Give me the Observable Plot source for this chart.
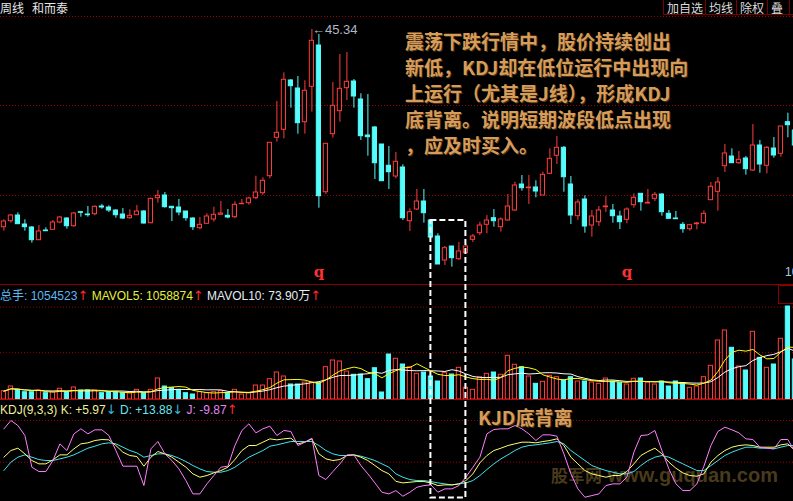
<!DOCTYPE html>
<html lang="zh">
<head>
<meta charset="utf-8">
<script src="https://cdn.jsdelivr.net/npm/d3@7"></script>
<script src="https://cdn.jsdelivr.net/npm/@observablehq/plot@0.6"></script>
<style>
html,body{margin:0;padding:0;background:#000;}
#wrap{position:relative;width:793px;height:501px;overflow:hidden;background:#000;font-family:"Liberation Sans","Noto Sans CJK SC",sans-serif;}
#wrap > *{position:absolute;}
.arw{font-family:"DejaVu Sans",sans-serif;font-size:13px;}
</style>
</head>
<body>
<div id="wrap"></div>
<script>
// ---------- data (weekly candles of 和而泰) ----------
const opens = [25.57,26.17,26.74,25.84,25.54,24.27,25.24,25.31,26.04,26.44,
 25.67,27.07,26.84,26.87,27.64,27.54,27.24,26.84,26.47,26.77,
 27.14,25.97,28.47,28.74,27.61,27.54,27.14,26.44,25.47,25.91,
 26.34,26.81,26.71,26.57,27.87,27.97,28.47,28.97,30.67,34.51,
 35.31,40.24,39.44,36.07,39.61,43.74,29.07,34.87,37.17,39.47,
 40.14,38.34,34.74,35.54,33.84,31.71,30.64,31.54,26.17,27.34,
 28.14,26.24,24.64,22.24,23.64,22.37,22.97,24.31,24.97,25.81,
 26.47,25.57,26.24,27.24,29.84,29.47,29.54,28.74,30.91,32.71,
 33.51,29.84,26.67,28.34,25.74,26.07,27.57,27.24,26.64,26.31,
 27.77,28.91,27.94,28.41,28.84,26.91,26.44,25.81,25.37,25.87,
 25.97,28.27,29.11,31.67,32.64,31.97,32.44,31.24,33.74,31.71,
 33.44,32.91,36.07,35.24];
const highs = [26.31,26.84,27.01,26.31,25.64,25.74,25.51,26.24,26.64,26.51,
 27.04,27.14,27.64,27.71,27.84,27.71,27.31,27.44,27.31,27.74,
 27.24,28.47,29.24,29.04,27.61,28.34,27.14,26.51,26.54,26.91,
 27.57,28.14,27.34,28.11,28.34,28.57,30.67,30.51,34.01,38.14,
 41.01,40.34,40.64,40.21,45.34,44.84,33.91,40.04,42.84,43.04,
 40.34,38.91,38.84,35.64,33.84,33.64,33.04,31.81,27.41,29.34,
 29.34,26.24,24.91,23.64,23.64,24.04,23.84,24.84,26.07,26.74,
 27.34,26.51,28.84,30.07,30.74,30.74,30.21,31.07,33.41,34.64,
 33.64,30.64,28.31,28.71,27.24,27.64,28.64,27.84,27.17,27.51,
 28.91,28.91,29.34,29.04,28.91,27.24,27.14,26.04,25.77,26.04,
 27.21,30.04,30.54,33.84,33.41,33.14,32.64,35.84,34.24,33.64,
 34.54,35.64,36.97,35.50];
const lows = [25.17,25.97,25.87,25.17,23.97,24.27,25.17,25.31,25.91,25.37,
 25.57,26.57,26.57,26.71,27.37,27.04,26.47,26.34,26.37,26.77,
 25.87,25.91,27.97,27.47,26.14,26.71,26.17,25.24,25.31,25.91,
 26.07,26.81,26.41,26.41,27.81,27.77,28.31,28.77,30.41,34.07,
 34.41,37.47,34.87,34.87,37.07,27.47,28.84,34.47,36.07,38.24,
 37.47,34.24,32.67,30.34,30.17,29.34,30.41,26.24,25.14,27.24,
 25.97,24.44,21.84,21.74,21.57,22.24,22.91,24.04,24.74,24.91,
 25.57,25.07,26.17,27.14,29.17,27.84,28.51,28.74,30.84,31.84,
 29.07,25.84,26.24,24.97,24.57,25.64,27.04,25.97,25.34,25.91,
 27.47,27.17,27.91,28.14,26.67,26.41,26.37,24.97,25.17,25.31,
 25.84,28.27,27.17,31.04,31.97,31.84,30.77,31.14,30.97,30.91,
 32.47,32.57,34.51,33.50];
const closes = [26.14,26.74,25.87,25.57,24.27,25.14,25.17,26.04,26.54,25.67,
 26.94,27.01,26.77,27.61,27.54,27.24,26.77,26.44,26.71,27.14,
 25.94,28.41,28.71,27.57,27.47,27.04,26.47,25.57,25.81,26.64,
 26.81,26.94,26.54,27.81,27.91,28.44,29.04,30.21,34.01,35.01,
 40.31,39.67,35.97,39.21,44.21,28.67,33.91,37.71,39.41,40.11,
 38.64,34.67,34.57,31.97,30.17,31.07,32.11,26.47,27.07,28.14,
 26.97,24.54,21.84,23.47,22.47,23.14,23.64,24.64,25.74,26.24,
 26.17,26.34,27.64,29.74,29.47,29.54,29.14,30.81,32.41,33.51,
 30.57,26.74,28.04,25.64,26.64,27.24,27.64,26.67,26.07,27.34,
 28.51,28.07,28.01,28.81,27.07,26.41,26.37,25.37,25.77,25.94,
 26.91,29.61,30.04,32.94,31.97,32.31,31.37,33.74,31.84,33.51,
 32.74,35.64,35.77,33.74];
// volume, 万手
const volumes = [20.8,32.5,24.2,18.2,18.2,22.5,15.8,18.2,26.8,18.2,
 30,22.5,22.5,22.5,15.8,18.2,18.2,15.8,15.8,24.2,
 15.8,24.2,52.5,32.5,29.2,24.2,15.8,12.5,18.2,15.8,
 18.2,20.8,15.8,24.2,12.5,15.8,35,35,50.8,67.5,
 57.5,37.5,37.5,42.5,42.5,40.8,80.8,97.5,95,70,
 61.8,62.5,50.8,78.2,17.5,112.5,101.8,87.5,80.8,64.2,
 67.5,57.5,45,65.8,62.5,79.2,29.2,24.2,55.8,64.2,
 67.5,61.8,109.2,86.8,80.8,57.5,39.2,44.2,59.2,55.8,
 47.5,55.8,45,45,42.5,39.2,52.5,45,40.8,37.5,
 51.8,52.5,41.8,37.5,45,32.5,45,40.8,29.2,32.5,
 55.8,84.2,147.5,172.5,129.2,82.5,72.5,169.2,104.2,79.2,
 87.5,151.8,232.5,100];
const kValues = [56,64,66.8,60,52,48,48,52.8,58.8,58.8,
 66,72,73.2,76,77.2,76.8,70,62,58,56.8,
 45.2,56,62.8,60,56,50,44,36,32,34,
 37.2,40,44,53.2,64,70,70,74,78,76.8,
 78,78.8,72,74,78,60,54,52,53.2,58,
 58.8,56,52,46,40,36,27,25.2,26,26.8,
 26.8,25.2,22,22.8,22.8,24,28,36,49.2,58,
 64,66.8,70,72,74,74,73.2,74.8,76,78,
 70,56,48,40,36,34,32,34,34,38.8,
 48,58,62.8,66.8,60,50,42.8,37.2,34,33.2,
 36,50,58,64,68,70,70.8,70,68,68,
 68,70.8,72,64];
const dValues = [40,50,56,58.8,56,53.2,52,52,54,56,
 58.8,62.8,66.8,69.2,72,73.2,72,68,64,61.2,
 56,58,60,60,58,54.8,50.8,46,42,38.8,
 38,38,40,44,50,56,60,64,69.2,70.8,
 72.8,74.8,74.8,74.8,74.8,70,64,60,58,58,
 58.8,57.2,54.8,52,48,44,36,32,29.2,28,
 28,26.8,25.2,24,22.8,24,25.2,28,34,41.2,
 48,54,58.8,64,68,70,70.8,72,73.2,74.8,
 72,64,58,52,46,42.8,40,38,36,36,
 38.8,46,52,56,58,56,52,48,44,40,
 40,46,52,58,62,65.2,68,68,66.8,66.8,
 66,68,70,70];
const jValues = [90,100,94,82,44,38.8,38.8,52,72,64,
 84,90,84,88.8,88.8,82,64,45.2,45.2,45.2,
 22,66,74.8,60,52,42,28,12,12,24,
 34,44,45.2,70,88,96,85.2,90,93.2,82,
 88,86.8,70,74,78.8,34,29.2,38.8,48,58.8,
 58.8,46,36,25.2,14,12,16,9.2,14,20,
 22,22.8,14,18,18,22,32,44,56,84,
 89.2,90,90,94,90,84,76,82.8,82.8,81.2,
 60,36,18,8,10,12,22,24,24,32,
 62,82,82.8,88,64,42,24,16,16,24,
 45.2,70,86.8,92,88.8,85.2,78,77.2,68,66.8,
 66,77.2,77.2,62.8];
const priceGrid = [46.64, 37.74, 28.74];
const volGrid = [231, 117];
const kdjGrid = [100, 50];
const qMarks = [45, 89];                 // bars carrying the "q" marker
const divergenceBars = [61, 66];         // KDJ bottom divergence window
const buttonLabels = ["加自选", "均线", "除权", "叠", "画"];
const titleParts = ["周线", "和而泰"];
const noteLines = ["震荡下跌行情中，股价持续创出", "新低，KDJ却在低位运行中出现向", "上运行（尤其是J线），形成KDJ", "底背离。说明短期波段低点出现", "，应及时买入。"];
const divergenceLabel = "KJD底背离";
const watermark = ["股军网", "www.guquan.com"];
const volLegend = [
  {text: "总手: 1054523", color: "#5cb8f4", arrow: "↑"},
  {text: "MAVOL5: 1058874", color: "#e6f03c", arrow: "↑"},
  {text: "MAVOL10: 73.90万", color: "#e4ecf4", arrow: "↑"}
];
const kdjLegend = [
  {text: "KDJ(9,3,3) K: +5.97", color: "#f0f09a", arrow: "↓", arrowColor: "#38b8d8"},
  {text: "D: +13.88", color: "#6ee4f0", arrow: "↓", arrowColor: "#38b8d8"},
  {text: "J: -9.87", color: "#e286f2", arrow: "↑", arrowColor: "#ff2a2a"}
];

// ---------- build ----------
const RED = "#ff3c3c", CYAN = "#54fcfc", GRID = "#a00000";
const W = 793;
const rows = d3.range(opens.length).map(i => ({
  i, open: opens[i], high: highs[i], low: lows[i], close: closes[i],
  vol: volumes[i], k: kValues[i], d: dValues[i], j: jValues[i],
  up: closes[i] >= opens[i]
}));
const xDomain = [-3.4 / 7, (W - 3.4) / 7];
const half = 0.3;
const wrap = document.getElementById("wrap");
function addDiv(html, css) {
  const d = document.createElement("div");
  d.innerHTML = html; d.style.cssText = css; wrap.appendChild(d); return d;
}
const baseStyle = {background: "transparent", fontFamily: "'Liberation Sans', 'Noto Sans CJK SC', sans-serif", overflow: "hidden"};

// header
addDiv(titleParts[0], "left:0px;top:1px;font:12px 'Noto Sans CJK SC';color:#e6e6e6;line-height:13px;white-space:nowrap");
addDiv(titleParts[1], "left:32px;top:1px;font:12px 'Noto Sans CJK SC';color:#e6e6e6;line-height:13px;white-space:nowrap");
const btnEdges = [663, 705, 736, 767, 789, 830];
buttonLabels.forEach((b, k) => {
  addDiv(b, `left:${btnEdges[k]}px;top:0;width:${btnEdges[k+1]-btnEdges[k]}px;height:15px;box-sizing:border-box;border-left:1px solid #7c0000;border-bottom:1px solid #7c0000;color:#dcdcdc;font:12px 'Noto Sans CJK SC';line-height:14px;padding-left:3px;padding-top:1px;white-space:nowrap`);
});

// watermark (behind the KDJ lines)
addDiv(`<span style="font-size:17px">${watermark[0]}</span> <span>${watermark[1]}</span>`,
  "left:551px;top:464px;font:bold 20px 'Liberation Sans','Noto Sans CJK SC';color:#4a3a1c;line-height:22px;white-space:nowrap");

// price panel
const price = Plot.plot({
  width: W, height: 285, margin: 0,
  x: {domain: xDomain, axis: null},
  y: {domain: [19.74, 48.24], axis: null},
  color: {type: "identity"},
  style: baseStyle,
  marks: [
    Plot.ruleY(priceGrid, {stroke: GRID, strokeDasharray: "1,2"}),
    Plot.ruleX(rows, {x: "i", y1: "low", y2: "high", stroke: d => d.up ? RED : CYAN}),
    Plot.rect(rows, {x1: d => d.i - half, x2: d => d.i + half, y1: "open", y2: "close",
      fill: d => d.up ? "#000" : CYAN, stroke: d => d.up ? RED : CYAN}),
    Plot.text(qMarks, {x: d => d, frameAnchor: "bottom", dy: -9, text: () => "q",
      fill: "#ff3030", fontSize: 15, fontWeight: "bold", fontFamily: "'DejaVu Serif', serif"}),
    Plot.text([rows.reduce((a, b) => b.high > a.high ? b : a)], {x: "i", y: "high",
      text: d => "←" + d.high.toFixed(2), textAnchor: "start", dx: 0, dy: 0,
      fill: "#b0b8c8", fontSize: 13})
  ]
});
price.style.left = "0px"; price.style.top = "0px";
wrap.appendChild(price);

// volume panel
const vol = Plot.plot({
  width: W, height: 115, margin: 0,
  x: {domain: xDomain, axis: null},
  y: {domain: [0, 285], range: [114, 0], axis: null},
  color: {type: "identity"},
  style: baseStyle,
  marks: [
    Plot.ruleY(volGrid, {stroke: GRID, strokeDasharray: "1,2"}),
    Plot.rect(rows, {x1: d => d.i - half, x2: d => d.i + half, y1: 0, y2: "vol",
      fill: d => d.up ? "#000" : CYAN, stroke: d => d.up ? RED : CYAN}),
    Plot.lineY(rows, Plot.windowY({k: 10, anchor: "end"}, {x: "i", y: "vol", stroke: "#ffffff", strokeWidth: 1})),
    Plot.lineY(rows, Plot.windowY({k: 5, anchor: "end"}, {x: "i", y: "vol", stroke: "#ffff00", strokeWidth: 1}))
  ]
});
vol.style.left = "0px"; vol.style.top = "285px";
wrap.appendChild(vol);

// KDJ panel
const kdj = Plot.plot({
  width: W, height: 101, margin: 0,
  x: {domain: xDomain, axis: null},
  y: {domain: [2.88, 123.98], axis: null},
  style: baseStyle,
  marks: [
    Plot.ruleY(kdjGrid, {stroke: GRID, strokeDasharray: "1,2"}),
    Plot.lineY(rows, {x: "i", y: "d", stroke: "#40e4f0", strokeWidth: 1}),
    Plot.lineY(rows, {x: "i", y: "k", stroke: "#ffff70", strokeWidth: 1}),
    Plot.lineY(rows, {x: "i", y: "j", stroke: "#ff80ff", strokeWidth: 1})
  ]
});
kdj.style.left = "0px"; kdj.style.top = "400px";
wrap.appendChild(kdj);

// panel borders
addDiv("", "left:0;top:284px;width:793px;height:1px;background:#8a0000");
addDiv("", "left:0;top:399px;width:793px;height:1px;background:#d00000");
addDiv("", "left:778px;top:285px;width:20px;height:19px;box-sizing:border-box;border:1px solid #8a0000");
addDiv("10", "left:785px;top:266px;font:12px 'Liberation Sans';color:#a8c8e0;line-height:12px");

// legends
addDiv(volLegend.map(l => `<span style="color:${l.color}">${l.text}</span><span class="arw" style="color:#ff2a2a">${l.arrow}</span>`).join(" "),
  "left:0px;top:289px;font:12px 'Liberation Sans','Noto Sans CJK SC';line-height:14px;white-space:nowrap");
addDiv(kdjLegend.map(l => `<span style="color:${l.color}">${l.text}</span><span class="arw" style="color:${l.arrowColor}">${l.arrow}</span>`).join(" "),
  "left:0px;top:403px;font:12px 'Liberation Sans','Noto Sans CJK SC';line-height:14px;white-space:nowrap");

// annotations
addDiv(noteLines.join("<br>"),
  "left:405px;top:28px;font:bold 19px 'Noto Sans CJK SC';color:#d69c5c;line-height:26px;white-space:nowrap;text-shadow:1px 1px 0 #4a3010");
addDiv(divergenceLabel,
  "left:478px;top:405px;font:bold 19px 'Noto Sans CJK SC';color:#d69c5c;line-height:24px;white-space:nowrap;text-shadow:1px 1px 0 #4a3010");

// dashed divergence box
const sx = price.scale("x"), sy = price.scale("y");
const boxTop = sy.apply(d3.max(rows.slice(divergenceBars[0], divergenceBars[1] + 1), d => d.high));
const bx1 = sx.apply(divergenceBars[0]), bx2 = sx.apply(divergenceBars[1]);
const ns = "http://www.w3.org/2000/svg";
const ov = document.createElementNS(ns, "svg");
ov.setAttribute("width", W); ov.setAttribute("height", 501);
ov.style.cssText = "left:0;top:0;position:absolute;pointer-events:none";
const r = document.createElementNS(ns, "rect");
r.setAttribute("x", bx1); r.setAttribute("y", boxTop);
r.setAttribute("width", bx2 - bx1); r.setAttribute("height", 497.5 - boxTop);
r.setAttribute("fill", "none"); r.setAttribute("stroke", "#ffffff");
r.setAttribute("stroke-width", 2); r.setAttribute("stroke-dasharray", "6,3");
ov.appendChild(r);
wrap.appendChild(ov);
</script>
</body>
</html>
